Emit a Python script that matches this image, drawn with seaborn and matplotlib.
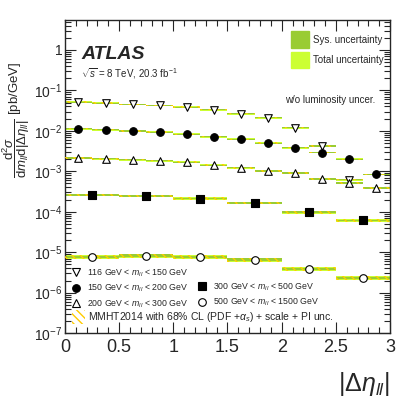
import numpy as np
import pandas as pd
import matplotlib
matplotlib.use("Agg")
import matplotlib.pyplot as plt
import matplotlib.ticker as mticker
from matplotlib.lines import Line2D
from matplotlib.patches import Patch
import seaborn as sns

# bin edges in |delta eta_ll|
edges_fine = [0.0, 0.25, 0.5, 0.75, 1.0, 1.25, 1.5, 1.75, 2.0, 2.25, 2.5, 2.75, 3.0]
edges_coarse = [0.0, 0.5, 1.0, 1.5, 2.0, 2.5, 3.0]

# measured cross sections [pb/GeV]
m116_150 = [0.0514, 0.0485, 0.045, 0.0426, 0.0387, 0.0334, 0.0266, 0.0212, 0.0120, 0.00422, 0.00062]
m150_200 = [0.0113, 0.0107, 0.0099, 0.0093, 0.0082, 0.0072, 0.0062, 0.0050, 0.00385, 0.0029, 0.00198, 0.00084]
m200_300 = [0.00213, 0.00206, 0.00195, 0.00184, 0.00167, 0.00141, 0.00123, 0.00102, 0.00091, 0.000645, 0.000514, 0.000387]
m300_500 = [2.6e-4, 2.45e-4, 2.12e-4, 1.65e-4, 9.7e-5, 6.1e-5]
m500_1500 = [7.7e-6, 8.3e-6, 7.7e-6, 6.6e-6, 3.9e-6, 2.3e-6]

# relative uncertainties (sys, total, theory) per mass range
rel_sys = [0.03, 0.03, 0.04, 0.05, 0.07]
rel_tot = [0.05, 0.05, 0.06, 0.08, 0.12]
rel_th = [0.04, 0.04, 0.05, 0.08, 0.12]

labels = [r"116 GeV < $m_{ll}$ < 150 GeV", r"150 GeV < $m_{ll}$ < 200 GeV",
          r"200 GeV < $m_{ll}$ < 300 GeV", r"300 GeV < $m_{ll}$ < 500 GeV",
          r"500 GeV < $m_{ll}$ < 1500 GeV"]
markers = ["v", "o", "^", "s", "o"]
filled = [False, True, False, True, False]
series = [m116_150, m150_200, m200_300, m300_500, m500_1500]
binning = [edges_fine, edges_fine, edges_fine, edges_coarse, edges_coarse]

sns.set_style("ticks")
plt.rcParams["font.family"] = ["Liberation Sans", "DejaVu Sans"]
plt.rcParams["mathtext.fontset"] = "custom"
plt.rcParams["mathtext.rm"] = "Liberation Sans"
plt.rcParams["mathtext.it"] = "Liberation Sans:italic"
plt.rcParams["hatch.linewidth"] = 1.0

fig = plt.figure(figsize=(4.11, 3.99), dpi=100)
ax = fig.add_axes([0.158, 0.165, 0.791, 0.785])

sys_col = "#99cc33"
tot_col = "#ccff33"
th_col = "#ffcc00"

for k, vals in enumerate(series):
    e = binning[k]
    for i, v in enumerate(vals):
        lo, hi = e[i], e[i + 1]
        ax.fill_between([lo, hi], v * (1 - rel_tot[k]), v * (1 + rel_tot[k]),
                        color=tot_col, lw=0, zorder=1)
        ax.fill_between([lo, hi], v * (1 - rel_sys[k]), v * (1 + rel_sys[k]),
                        color=sys_col, lw=0, zorder=2)
        ax.fill_between([lo, hi], v * (1 - rel_th[k]), v * (1 + rel_th[k]),
                        facecolor="none", edgecolor=th_col, hatch="\\\\\\\\",
                        lw=0, zorder=3)
    centers = [(e[i] + e[i + 1]) / 2 for i in range(len(vals))]
    df = pd.DataFrame({"x": centers, "y": vals})
    sns.scatterplot(data=df, x="x", y="y", marker=markers[k], s=30,
                    facecolor="black" if filled[k] else "white",
                    edgecolor="black", linewidth=0.8, ax=ax, zorder=5)

ax.set_yscale("log")
ax.set_xlim(0, 3)
ax.set_ylim(1e-7, 5.5)

ax.xaxis.set_major_locator(mticker.MultipleLocator(0.5))
ax.xaxis.set_minor_locator(mticker.MultipleLocator(0.1))
ax.xaxis.set_major_formatter(mticker.FuncFormatter(lambda v, p: f"{v:g}"))
ax.yaxis.set_major_locator(mticker.LogLocator(base=10, numticks=20))
ax.yaxis.set_minor_locator(mticker.LogLocator(base=10, subs=np.arange(2, 10), numticks=20))


def yfmt(v, p):
    n = int(round(np.log10(v)))
    return "1" if n == 0 else r"$10^{%d}$" % n


ax.yaxis.set_major_formatter(mticker.FuncFormatter(yfmt))
ax.yaxis.set_minor_formatter(mticker.NullFormatter())
ax.tick_params(which="both", direction="in", top=True, right=True, width=0.8)
ax.tick_params(which="major", length=8)
ax.tick_params(which="minor", length=4)
ax.tick_params(axis="x", labelsize=13, pad=4)
ax.tick_params(axis="y", labelsize=10, pad=2)
for s in ax.spines.values():
    s.set_linewidth(1.0)

ax.set_xlabel(r"$|\Delta\eta_{ll}|$", fontsize=18, loc="right", labelpad=10)
ax.set_ylabel(r"$\dfrac{\mathrm{d}^2\sigma}{\mathrm{d}m_{ll}\mathrm{d}|\Delta\eta_{ll}|}$ [pb/GeV]",
              fontsize=9.5)
ax.yaxis.set_label_coords(-0.1, 0.68)

ax.text(0.05, 0.89, "ATLAS", transform=ax.transAxes, fontsize=14,
        fontweight="bold", fontstyle="italic", va="center")
ax.text(0.05, 0.83, r"$\sqrt{s}$ = 8 TeV, 20.3 fb$^{-1}$", transform=ax.transAxes,
        fontsize=7, va="center")

# uncertainty legend (top right)
unc_handles = [Patch(facecolor=sys_col, edgecolor=sys_col), Patch(facecolor=tot_col, edgecolor=tot_col)]
leg1 = ax.legend(unc_handles, ["Sys. uncertainty", "Total uncertainty"],
                 loc="upper right", bbox_to_anchor=(1.0, 0.985), frameon=False,
                 fontsize=7, handlelength=1.8, handleheight=2.2, labelspacing=0.4,
                 handletextpad=0.4, borderaxespad=0.3)
ax.add_artist(leg1)
ax.text(0.955, 0.745, "w/o luminosity uncer.", transform=ax.transAxes,
        fontsize=7, ha="right", va="center")

# mass-range legend (bottom left)
mh = []
for k in range(5):
    mh.append(Line2D([], [], ls="none", marker=markers[k], markersize=5.5,
                     markerfacecolor="black" if filled[k] else "white",
                     markeredgecolor="black", markeredgewidth=0.8))
blank = Line2D([], [], ls="none")
leg2 = ax.legend([mh[0], mh[1], mh[2], blank, mh[3], mh[4]],
                 [labels[0], labels[1], labels[2], "", labels[3], labels[4]],
                 ncol=2, loc="lower left", bbox_to_anchor=(0.0, 0.055), frameon=False,
                 fontsize=6.3, handlelength=1.2, handletextpad=0.6, labelspacing=0.45,
                 columnspacing=1.0, borderaxespad=0.3)
ax.add_artist(leg2)
th_handle = Patch(facecolor="white", edgecolor=th_col, hatch="\\\\\\\\", lw=0)
ax.legend([th_handle], [r"MMHT2014 with 68% CL (PDF +$\alpha_{s}$) + scale + PI unc."],
          loc="lower left", bbox_to_anchor=(0.0, 0.005), frameon=False, fontsize=7.5,
          handlelength=1.2, handleheight=1.6, handletextpad=0.3, borderaxespad=0.3)

fig.savefig("out.png", dpi=100)
